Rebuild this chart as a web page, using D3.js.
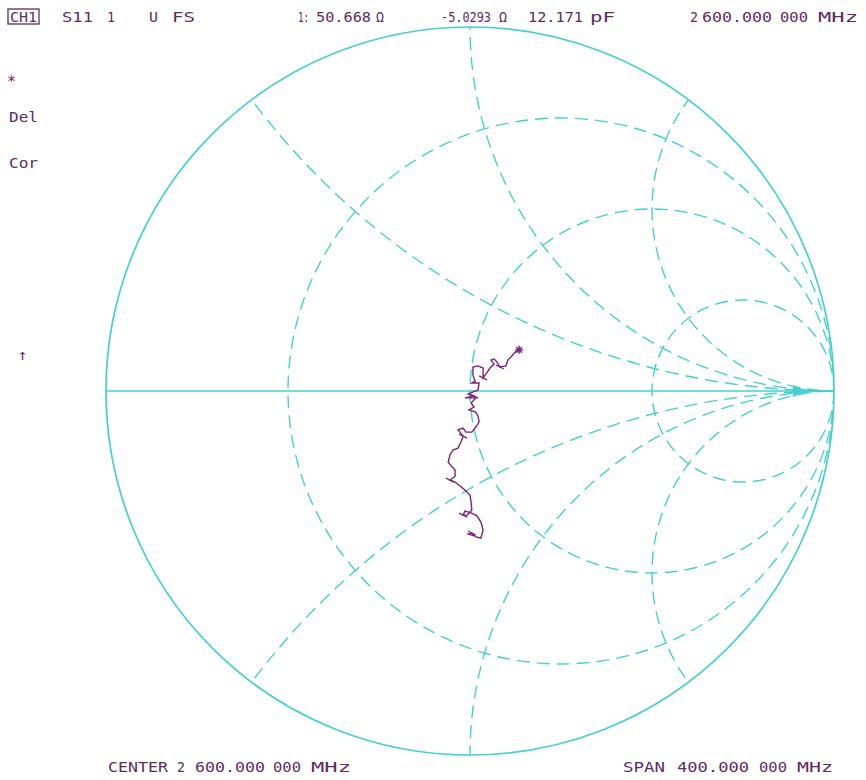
<!DOCTYPE html>
<html>
<head>
<meta charset="utf-8">
<script src="https://cdn.jsdelivr.net/npm/d3@7"></script>
<style>
  body { margin: 0; background: #fff; }
  svg text { font-family: "DejaVu Sans Mono", monospace; fill: #5e2c5e; }
</style>
</head>
<body>
<svg id="chart" width="866" height="780"></svg>
<script>
// graticule values (normalised impedance)
const resistanceCircles = [1 / 3, 1, 3]
const reactanceArcs = [0.5, 1, 2, -0.5, -1, -2]

// S11 trace, reflection coefficient
const traceRe = [0.135, 0.124, 0.115, 0.104, 0.099, 0.082, 0.074, 0.066, 0.058, 0.066,
  0.055, 0.044, 0.036, 0.036, 0.022, 0.008, 0.008, 0.014, 0.005, 0.025,
  0.022, -0.005, 0.011, -0.014, 0.016, 0.003, 0.011, -0.003, 0.016, 0.022,
  0.025, 0.016, 0.005, -0.011, -0.019, -0.033, -0.019, -0.025, -0.033, -0.047,
  -0.055, -0.060, -0.049, -0.041, -0.041, -0.055, -0.041, -0.027, -0.014, 0.000,
  0.003, 0.005, -0.008, -0.019, -0.014, 0.003, 0.019, 0.030, 0.036, 0.030,
  0.016, 0.005, -0.005, 0.011]
const traceIm = [0.113, 0.107, 0.096, 0.085, 0.069, 0.066, 0.080, 0.088, 0.085, 0.074,
  0.063, 0.047, 0.036, 0.063, 0.069, 0.066, 0.044, 0.027, 0.022, 0.022,
  0.003, -0.008, -0.014, -0.019, -0.019, -0.033, -0.044, -0.052, -0.058, -0.069,
  -0.085, -0.099, -0.113, -0.113, -0.102, -0.107, -0.124, -0.140, -0.157, -0.162,
  -0.176, -0.195, -0.209, -0.217, -0.234, -0.245, -0.250, -0.261, -0.272, -0.286,
  -0.305, -0.327, -0.341, -0.341, -0.330, -0.335, -0.343, -0.360, -0.382, -0.404,
  -0.401, -0.390, -0.393, -0.398]
// indices of trace points carrying a small hatch tick
const tickIdx = [5, 12, 22, 36, 45, 53, 61]

// annotation texts, one entry per word
const headerTexts = ["S11", "1", "U", "FS", "1:", "50.668", "Ω", "-5.0293", "Ω", "12.171", "pF", "2", "600.000", "000", "MHz"]
const headerX = [62, 107, 149, 172, 298, 316, 376, 441, 499, 528, 590, 690, 702, 780, 818]
const headerW = [31, 8, 9, 23, 11, 55, 8, 50, 8, 55, 25, 8, 70, 28, 40]
const sideTexts = ["Del", "Cor"]
const footerTexts = ["CENTER", "2", "600.000", "000", "MHz", "SPAN", "400.000", "000", "MHz"]
const footerX = [108, 177, 195, 273, 311, 623, 677, 759, 797]
const footerW = [60, 8, 70, 28, 40, 42, 72, 28, 36]

const CYAN = "#45d0d0"
const PURPLE = "#7b2379"
const INK = "#5e2c5e"

const svg = d3.select("#chart")

const xs = d3.scaleLinear().domain([-1, 1]).range([106, 834])
const ys = d3.scaleLinear().domain([-1, 1]).range([755, 27])
const rs = v => xs(v) - xs(0)

svg.append("clipPath").attr("id", "unit")
    .append("circle")
    .attr("cx", xs(0)).attr("cy", ys(0)).attr("r", rs(1))

const grid = svg.append("g").attr("clip-path", "url(#unit)")

// constant resistance circles
grid.selectAll("circle.res")
    .data(resistanceCircles)
    .enter()
    .append("circle")
    .attr("class", "res")
    .attr("cx", r => xs(r / (1 + r)))
    .attr("cy", ys(0))
    .attr("r", r => rs(1 / (1 + r)))
    .attr("fill", "none")
    .attr("stroke", CYAN)
    .attr("stroke-width", 1.4)
    .attr("stroke-dasharray", "13,7")

// constant reactance arcs
grid.selectAll("circle.reac")
    .data(reactanceArcs)
    .enter()
    .append("circle")
    .attr("class", "reac")
    .attr("cx", xs(1))
    .attr("cy", x => ys(1 / x))
    .attr("r", x => rs(1 / Math.abs(x)))
    .attr("fill", "none")
    .attr("stroke", CYAN)
    .attr("stroke-width", 1.4)
    .attr("stroke-dasharray", "13,7")

// outer circle and real axis
svg.append("circle")
    .attr("cx", xs(0)).attr("cy", ys(0)).attr("r", rs(1))
    .attr("fill", "none").attr("stroke", CYAN).attr("stroke-width", 1.7)
svg.append("line")
    .attr("x1", xs(-1)).attr("x2", xs(1))
    .attr("y1", ys(0)).attr("y2", ys(0))
    .attr("stroke", CYAN).attr("stroke-width", 1.7)

// reference marker near the open end
svg.append("path")
    .attr("d", d3.symbol(d3.symbolTriangle, 60)())
    .attr("transform", `translate(${xs(0.9)},${ys(0)}) rotate(90) scale(1,1.4)`)
    .attr("fill", CYAN)

// trace
const pts = traceRe.map((re, i) => [re, traceIm[i]])
const px = d => xs(d[0]), py = d => ys(d[1])
svg.append("path")
    .datum(pts)
    .attr("d", d3.line().x(px).y(py))
    .attr("fill", "none")
    .attr("stroke", PURPLE)
    .attr("stroke-width", 1.4)

// short hatch ticks along the trace
svg.selectAll("line.hatch")
    .data(tickIdx)
    .enter()
    .append("line")
    .attr("class", "hatch")
    .attr("x1", i => px(pts[i]) - 4).attr("x2", i => px(pts[i]) + 4)
    .attr("y1", i => py(pts[i]) - 2).attr("y2", i => py(pts[i]) + 2)
    .attr("stroke", PURPLE).attr("stroke-width", 1.3)

// marker star at trace end
const star = svg.append("g").attr("transform", `translate(${px(pts[0])},${py(pts[0])})`)
d3.range(4).forEach(k => {
    const a = k * Math.PI / 4
    star.append("line")
        .attr("x1", -4 * Math.cos(a)).attr("y1", -4 * Math.sin(a))
        .attr("x2", 4 * Math.cos(a)).attr("y2", 4 * Math.sin(a))
        .attr("stroke", PURPLE).attr("stroke-width", 1.4)
})

// header
svg.append("rect")
    .attr("x", 8).attr("y", 9).attr("width", 31).attr("height", 15)
    .attr("fill", "none").attr("stroke", INK).attr("stroke-width", 1.3)
svg.append("text").attr("x", 10).attr("y", 21.5).attr("font-size", 14)
    .attr("textLength", 27).attr("lengthAdjust", "spacingAndGlyphs").text("CH1")

svg.selectAll("text.head")
    .data(headerTexts)
    .enter()
    .append("text")
    .attr("class", "head")
    .attr("x", (d, i) => headerX[i])
    .attr("y", 21.5)
    .attr("font-size", 14)
    .attr("textLength", (d, i) => headerW[i])
    .attr("lengthAdjust", "spacingAndGlyphs")
    .text(d => d)

// left side annotations
svg.append("text").attr("x", 7).attr("y", 87).attr("font-size", 15)
    .style("fill", PURPLE).text("*")
svg.selectAll("text.side")
    .data(sideTexts)
    .enter()
    .append("text")
    .attr("class", "side")
    .attr("x", 9)
    .attr("y", (d, i) => 122 + i * 46)
    .attr("font-size", 14)
    .attr("textLength", 29)
    .attr("lengthAdjust", "spacingAndGlyphs")
    .text(d => d)
svg.append("text").attr("x", 18).attr("y", 360).attr("font-size", 15).text("↑")

// footer
svg.selectAll("text.foot")
    .data(footerTexts)
    .enter()
    .append("text")
    .attr("class", "foot")
    .attr("x", (d, i) => footerX[i])
    .attr("y", 772)
    .attr("font-size", 14)
    .attr("textLength", (d, i) => footerW[i])
    .attr("lengthAdjust", "spacingAndGlyphs")
    .text(d => d)
</script>
</body>
</html>
